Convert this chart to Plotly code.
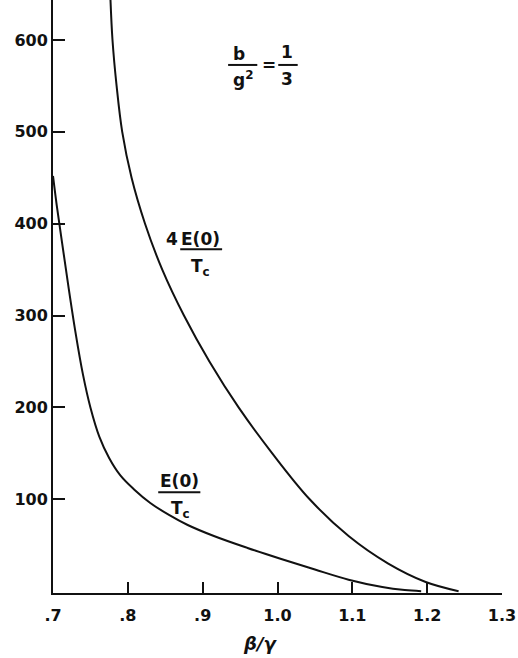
import plotly.graph_objects as go

# ---- data ----
x_ticks = [0.7, 0.8, 0.9, 1.0, 1.1, 1.2, 1.3]
x_ticktext = [".7", ".8", ".9", "1.0", "1.1", "1.2", "1.3"]
y_ticks = [100, 200, 300, 400, 500, 600]

# E(0)/Tc  (lower curve)
e_x = [0.700, 0.705, 0.712, 0.720, 0.730, 0.740, 0.750, 0.762, 0.775, 0.790,
       0.808, 0.830, 0.855, 0.880, 0.915, 0.960, 1.005, 1.050, 1.095, 1.140,
       1.170, 1.192]
e_y = [452, 420, 380, 335, 282, 236, 200, 168, 145, 126,
       111, 96, 83, 72, 60, 47, 35, 23.5, 12.5, 4.5,
       1.2, 0]

# 4E(0)/Tc  (upper curve)
f_x = [0.7765, 0.7795, 0.7850, 0.7925, 0.805, 0.823, 0.846, 0.875, 0.909, 0.948,
       0.993, 1.043, 1.095, 1.148, 1.198, 1.242]
f_y = [650, 600, 550, 500, 450, 400, 350, 300, 250, 200,
       150, 100, 60, 30, 10, 0]

FONT = "DejaVu Sans"
BLACK = "#111111"

fig = go.Figure()
for xs, ys in ((e_x, e_y), (f_x, f_y)):
    fig.add_trace(go.Scatter(x=xs, y=ys, mode="lines",
                             line=dict(color=BLACK, width=2, shape="spline", smoothing=1.0),
                             showlegend=False, hoverinfo="skip"))

ann = []
def txt(x, y, s, size=17):
    ann.append(dict(x=x, y=y, xref="x", yref="y", text=s, showarrow=False,
                    font=dict(family=FONT, size=size, color=BLACK, weight="bold"),
                    xanchor="center", yanchor="middle"))

shapes = []
def bar(x0, x1, y):
    shapes.append(dict(type="line", xref="x", yref="y", x0=x0, x1=x1, y0=y, y1=y,
                       line=dict(color=BLACK, width=2)))

# b / g^2 = 1/3
txt(0.949, 585, "b")
bar(0.934, 0.973, 572.8)
txt(0.954, 557, "g<sup>2</sup>")
txt(0.988, 572.8, "=")
txt(1.013, 587, "1")
bar(1.001, 1.027, 572.8)
txt(1.013, 557, "3")

# 4E(0)/Tc
txt(0.859, 383, "4")
txt(0.897, 383, "E(0)")
bar(0.870, 0.926, 372.2)
txt(0.897, 352, "T<sub>c</sub>")

# E(0)/Tc
txt(0.869, 120, "E(0)")
bar(0.8406, 0.8969, 107.7)
txt(0.870, 89, "T<sub>c</sub>")

# axis title
ann.append(dict(x=0.976, y=0, xref="x", yref="paper", text="<i>β/γ</i>",
                showarrow=False, yshift=-50, yanchor="middle",
                font=dict(family=FONT, size=18, color=BLACK, weight="bold")))

fig.update_layout(
    width=518, height=658,
    margin=dict(l=53, r=16, t=0, b=65),
    paper_bgcolor="white", plot_bgcolor="white",
    annotations=ann, shapes=shapes,
    font=dict(family=FONT, color=BLACK),
)
tickfont = dict(family=FONT, size=16, color=BLACK, weight="bold")
fig.update_xaxes(range=[0.7, 1.3], tickvals=x_ticks, ticktext=x_ticktext,
                 ticks="inside", ticklen=11, tickwidth=2, tickcolor=BLACK,
                 showline=True, linecolor=BLACK, linewidth=2,
                 showgrid=False, zeroline=False,
                 tickfont=tickfont, ticklabelstandoff=7)
fig.update_yaxes(range=[-2, 643.5], tickvals=y_ticks,
                 ticks="inside", ticklen=12, tickwidth=2, tickcolor=BLACK,
                 showline=True, linecolor=BLACK, linewidth=2,
                 showgrid=False, zeroline=False,
                 tickfont=tickfont, ticklabelstandoff=0)

fig.write_html("out.html")
